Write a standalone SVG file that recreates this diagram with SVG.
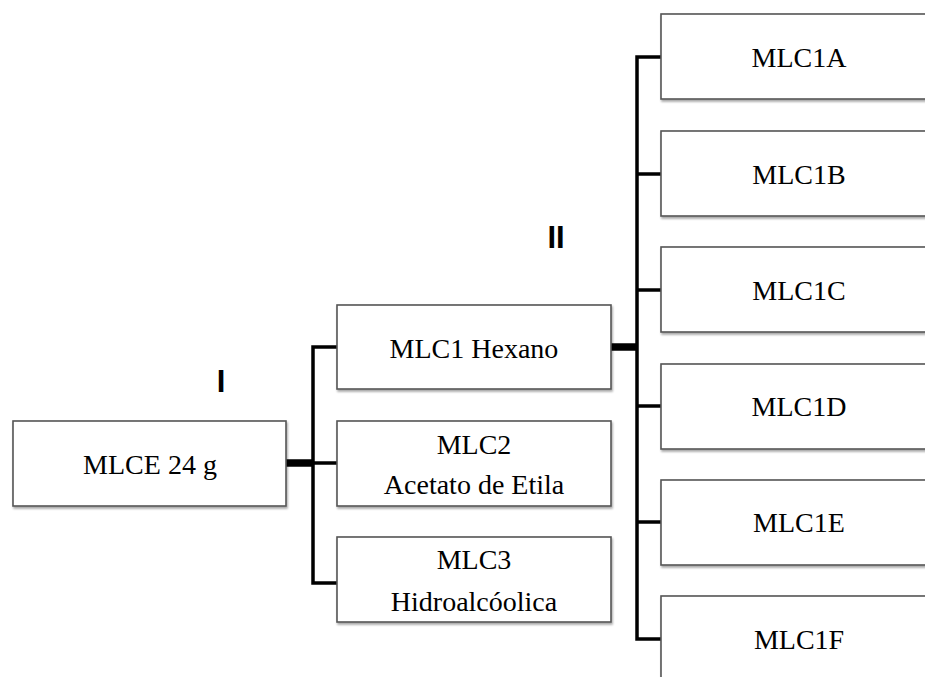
<svg xmlns="http://www.w3.org/2000/svg" width="925" height="677" viewBox="0 0 925 677">
  <defs>
    <filter id="shadow" x="-5%" y="-10%" width="115%" height="130%">
      <feGaussianBlur in="SourceAlpha" stdDeviation="1.2"/>
      <feOffset dx="1" dy="2" result="b"/>
      <feComponentTransfer><feFuncA type="linear" slope="0.35"/></feComponentTransfer>
      <feMerge><feMergeNode/><feMergeNode in="SourceGraphic"/></feMerge>
    </filter>
  </defs>
  <style>
    .box { fill: #ffffff; stroke: #555555; stroke-width: 1.6; filter: url(#shadow); }
    .lbl { font-family: 'Liberation Serif', 'DejaVu Serif', serif; font-size: 28px; fill: #000000; text-anchor: middle; }
    .stage { font-family: 'Liberation Sans', Arial, sans-serif; font-size: 31px; font-weight: bold; fill: #000000; text-anchor: middle; }
    .thin { fill: none; stroke: #000000; stroke-width: 3.5; stroke-linejoin: miter; }
    .thick { fill: none; stroke: #000000; stroke-width: 7.5; }
  </style>
  <rect width="925" height="677" fill="#ffffff"/>

  <!-- connectors -->
  <g id="connectors">
    <line class="thick" x1="286" y1="463" x2="314" y2="463"/>
    <path class="thin" d="M337,347 H313 V583 H337"/>
    <line class="thin" x1="313" y1="463" x2="337" y2="463"/>
    <line class="thick" x1="611" y1="347" x2="638" y2="347"/>
    <path class="thin" d="M661,57 H637 V639 H661"/>
    <line class="thin" x1="637" y1="174" x2="661" y2="174"/>
    <line class="thin" x1="637" y1="290" x2="661" y2="290"/>
    <line class="thin" x1="637" y1="406" x2="661" y2="406"/>
    <line class="thin" x1="637" y1="522" x2="661" y2="522"/>
  </g>

  <!-- stage labels -->
  <text class="stage" x="221" y="392">I</text>
  <text class="stage" x="556" y="248">II</text>

  <g id="mlce">
    <rect class="box" x="13" y="421" width="273" height="85"/>
    <text class="lbl" x="150" y="474" font-family="Liberation Serif, serif">MLCE 24 g</text>
  </g>

  <g id="mlc1">
    <rect class="box" x="337" y="305" width="274" height="84"/>
    <text class="lbl" x="474" y="358">MLC1 Hexano</text>
  </g>
  <g id="mlc2">
    <rect class="box" x="337" y="421" width="274" height="85"/>
    <text class="lbl" x="474" y="454">MLC2</text>
    <text class="lbl" x="474" y="494">Acetato de Etila</text>
  </g>
  <g id="mlc3">
    <rect class="box" x="337" y="537" width="274" height="85"/>
    <text class="lbl" x="474" y="569">MLC3</text>
    <text class="lbl" x="474" y="611">Hidroalcóolica</text>
  </g>

  <g id="mlc1a">
    <rect class="box" x="661" y="14" width="276" height="85"/>
    <text class="lbl" x="799" y="67">MLC1A</text>
  </g>
  <g id="mlc1b">
    <rect class="box" x="661" y="131" width="276" height="85"/>
    <text class="lbl" x="799" y="184">MLC1B</text>
  </g>
  <g id="mlc1c">
    <rect class="box" x="661" y="247" width="276" height="85"/>
    <text class="lbl" x="799" y="300">MLC1C</text>
  </g>
  <g id="mlc1d">
    <rect class="box" x="661" y="364" width="276" height="85"/>
    <text class="lbl" x="799" y="416">MLC1D</text>
  </g>
  <g id="mlc1e">
    <rect class="box" x="661" y="480" width="276" height="85"/>
    <text class="lbl" x="799" y="532">MLC1E</text>
  </g>
  <g id="mlc1f">
    <rect class="box" x="661" y="596" width="276" height="90"/>
    <text class="lbl" x="799" y="649">MLC1F</text>
  </g>
</svg>
